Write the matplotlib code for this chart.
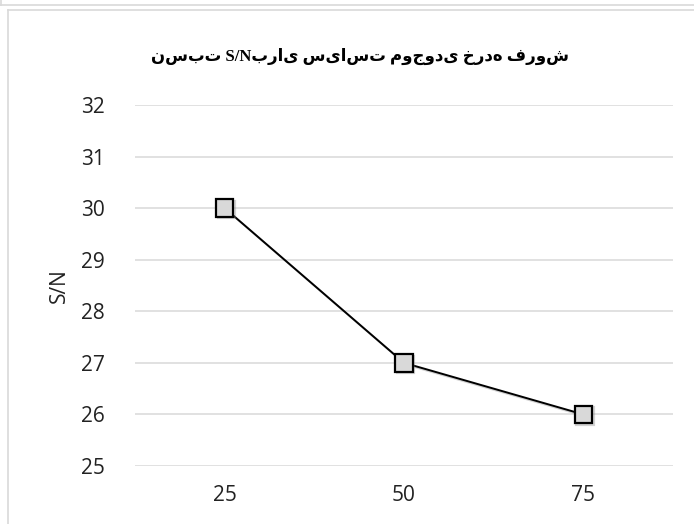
import matplotlib
matplotlib.use("Agg")
import matplotlib.pyplot as plt
import matplotlib.patheffects as pe
from matplotlib.lines import Line2D

# data
categories = ["25", "50", "75"]
sn_values = [30, 27, 26]
y_ticks = [25, 26, 27, 28, 29, 30, 31, 32]
title = "نسبت S/Nبرای سیاست موجودی خرده فروش"
y_label = "S/N"

W, H = 694, 524
fig = plt.figure(figsize=(W / 100, H / 100), dpi=100)
ax = fig.add_axes([135 / W, 1 - 466 / H, 538 / W, 361 / H])

x = range(len(categories))
ax.plot(x, sn_values, color='black', lw=1.4, marker='s', markersize=12.5,
        markerfacecolor='#d9d9d9', markeredgecolor='black', markeredgewidth=1.6,
        zorder=3,
        path_effects=[pe.SimpleLineShadow(offset=(1.2, -1.2), alpha=0.35, shadow_color='gray'),
                      pe.Normal()])

ax.set_xlim(-0.5, len(categories) - 0.5)
ax.set_ylim(25, 32)
ax.set_yticks(y_ticks)
ax.set_xticks(list(x))
ax.set_xticklabels(categories)
ax.grid(axis='y', color='#d9d9d9', lw=1.1)
ax.set_axisbelow(True)
for s in ax.spines.values():
  s.set_visible(False)
ax.tick_params(length=0, labelsize=15, colors='#222222', pad=14)
ax.tick_params(axis='y', pad=22)
for lab in ax.get_xticklabels() + ax.get_yticklabels():
  lab.set_family('Open Sans')
ax.set_ylabel(y_label, fontsize=15, family='Open Sans', color='#222222', labelpad=8)

fig.text(360 / W, 1 - 56 / H, title, ha='center', va='center',
         fontsize=12, fontweight='bold', family=['Liberation Serif', 'DejaVu Sans'])

# chart frames
frame = '#d9d9d9'
fig.add_artist(Line2D([0, 1], [1 - 5 / H, 1 - 5 / H], color=frame, lw=1.2))
fig.add_artist(Line2D([0.7 / W, 0.7 / W], [1, 1 - 5 / H], color=frame, lw=1.2))
fig.add_artist(Line2D([7.5 / W, 1], [1 - 9.5 / H, 1 - 9.5 / H], color=frame, lw=1.2))
fig.add_artist(Line2D([7.5 / W, 7.5 / W], [1 - 9.5 / H, 0], color=frame, lw=1.2))

fig.savefig("out.png", dpi=100)
